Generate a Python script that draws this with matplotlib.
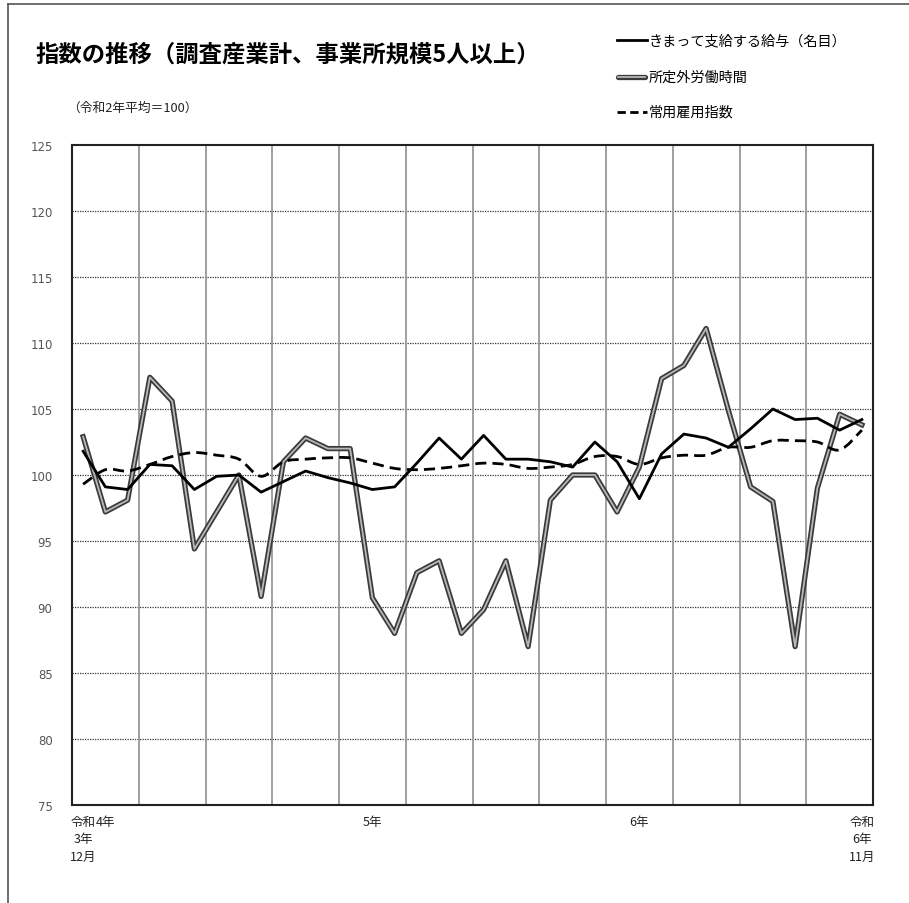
import matplotlib
matplotlib.use("Agg")
import matplotlib.pyplot as plt
from matplotlib.path import Path
from matplotlib.patches import PathPatch
from matplotlib.lines import Line2D
import numpy as np

plt.rcParams['font.family'] = ['Noto Sans CJK JP', 'DejaVu Sans']

# ---- data ----
months = list(range(36))  # 令和3年12月 .. 令和6年11月
wages = [101.8, 99.1, 98.9, 100.8, 100.7, 98.9, 99.9, 100.0, 98.7, 99.5, 100.3, 99.8,
         99.4, 98.9, 99.1, 100.9, 102.8, 101.2, 103.0, 101.2, 101.2, 101.0, 100.6, 102.5,
         101.0, 98.2, 101.6, 103.1, 102.8, 102.1, 103.5, 105.0, 104.2, 104.3, 103.4, 104.2]
overtime = [102.9, 97.2, 98.1, 107.4, 105.6, 94.4, 97.2, 100.0, 90.8, 101.0, 102.8, 102.0,
            102.0, 90.7, 88.0, 92.6, 93.5, 88.0, 89.8, 93.5, 87.0, 98.1, 100.0, 100.0,
            97.2, 100.6, 107.3, 108.3, 111.1, 104.9, 99.1, 98.0, 87.0, 99.0, 104.6, 103.8]
employment = [99.3, 100.4, 100.3, 100.8, 101.4, 101.7, 101.5, 101.2, 99.9, 101.0, 101.2, 101.3,
              101.3, 100.9, 100.5, 100.4, 100.5, 100.7, 100.9, 100.8, 100.5, 100.6, 100.8, 101.4,
              101.4, 100.8, 101.3, 101.5, 101.5, 102.1, 102.1, 102.6, 102.6, 102.5, 101.9, 103.4]
xtick_pos = [0, 1, 13, 25, 35]
xtick_labels = ["令和\n3年\n12月", "4年", "5年", "6年", "令和\n6年\n11月"]
yticks = [75, 80, 85, 90, 95, 100, 105, 110, 115, 120, 125]
series_names = ["きまって支給する給与（名目）", "所定外労働時間", "常用雇用指数"]
title = "指数の推移（調査産業計、事業所規模5人以上）"
subtitle = "（令和2年平均＝100）"

W, H = 909, 904
fig = plt.figure(figsize=(W / 100, H / 100), dpi=100)
ax = fig.add_axes([72 / W, 1 - 806 / H, (873 - 72) / W, (806 - 146) / H])

def fx(px):
    return px / W

def fy(py):
    return 1 - py / H

# overtime: double line
ax.plot(months, overtime, color='#3a3a3a', lw=3.8, solid_joinstyle='round', zorder=3)
ax.plot(months, overtime, color='#b8b8b8', lw=1.3, solid_joinstyle='round', zorder=3.1)

# employment: smoothed dashed line (Bezier through data points)
def smooth_path(xs, ys):
    xs = np.asarray(xs, float); ys = np.asarray(ys, float)
    n = len(xs)
    verts = [(xs[0], ys[0])]
    codes = [Path.MOVETO]
    for i in range(n - 1):
        p0 = np.array([xs[max(i - 1, 0)], ys[max(i - 1, 0)]])
        p1 = np.array([xs[i], ys[i]])
        p2 = np.array([xs[i + 1], ys[i + 1]])
        p3 = np.array([xs[min(i + 2, n - 1)], ys[min(i + 2, n - 1)]])
        c1 = p1 + (p2 - p0) / 6.0
        c2 = p2 - (p3 - p1) / 6.0
        verts += [tuple(c1), tuple(c2), tuple(p2)]
        codes += [Path.CURVE4] * 3
    return Path(verts, codes)

patch = PathPatch(smooth_path(months, employment), fill=False, edgecolor='black',
                  lw=2.0, linestyle=(0, (4, 2.2)), zorder=4)
ax.add_patch(patch)

# wages: solid black
ax.plot(months, wages, color='black', lw=2.0, zorder=5)

ax.set_xlim(-0.5, 35.5)
ax.set_ylim(75, 125)

ax.set_yticks(yticks)
ax.set_yticklabels([str(v) for v in yticks], fontsize=8.5, color='#555555', family='DejaVu Sans')
ax.set_xticks(xtick_pos)
ax.set_xticklabels(xtick_labels, fontsize=9, color='#222222', linespacing=1.45, va='top')
ax.tick_params(axis='both', length=0)
ax.tick_params(axis='y', pad=14)
ax.tick_params(axis='x', pad=7)

# grid
for v in yticks[1:-1]:
    ax.axhline(v, color='#333333', lw=0.9, linestyle=(0, (1, 1)), zorder=1)
for k in range(1, 12):
    ax.axvline(-0.5 + 3 * k, color='#999999', lw=1.3, zorder=1)

for s in ax.spines.values():
    s.set_linewidth(1.5)
    s.set_color('#222222')

# title and subtitle
fig.text(fx(35), fy(55), title, fontsize=16.8, fontweight='bold', ha='left', va='center')
fig.text(fx(67), fy(108), subtitle, fontsize=9.2, ha='left', va='center', color='#222222')

# custom legend
ly = [41, 78, 113]
x0, x1 = 617, 647
fig.add_artist(Line2D([fx(x0), fx(x1)], [fy(ly[0])] * 2, color='black', lw=2.0))
fig.add_artist(Line2D([fx(x0 + 1), fx(x1 - 2)], [fy(ly[1])] * 2, color='#3a3a3a', lw=3.8,
                      solid_capstyle='round'))
fig.add_artist(Line2D([fx(x0 + 1), fx(x1 - 2)], [fy(ly[1])] * 2, color='#b8b8b8', lw=1.3))
fig.add_artist(Line2D([fx(x0), fx(x1)], [fy(ly[2])] * 2, color='black', lw=2.0,
                      linestyle=(0, (3, 1.6))))
for yy, name in zip(ly, series_names):
    fig.text(fx(x1 + 2), fy(yy), name, fontsize=10.2, ha='left', va='center')

# outer chart-area border (left and top visible)
fig.add_artist(Line2D([fx(8), fx(8)], [fy(5), fy(904)], color='#555555', lw=1.2))
fig.add_artist(Line2D([fx(8), fx(909)], [fy(5), fy(5)], color='#555555', lw=1.2))

fig.savefig("out.png", dpi=100)
